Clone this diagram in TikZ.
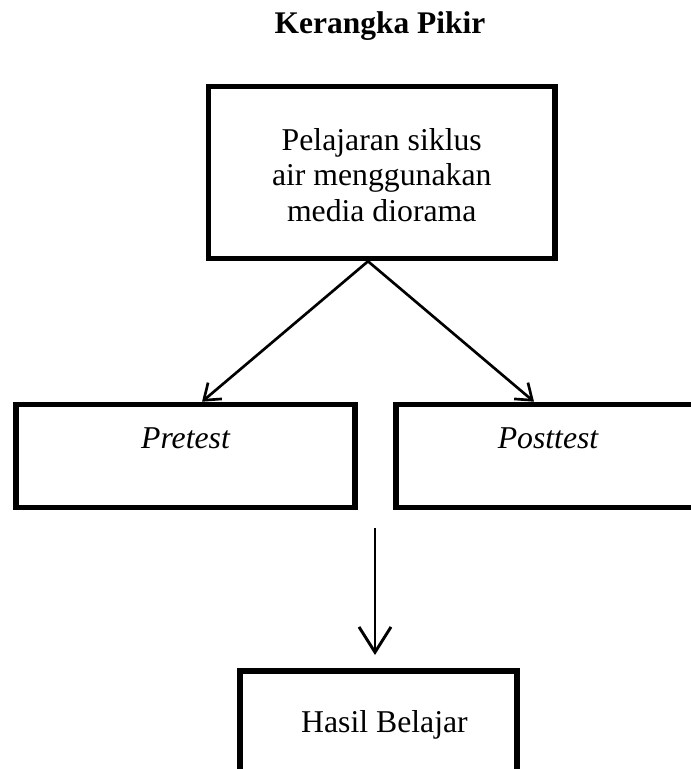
\documentclass[tikz,border=0pt]{standalone}
\usepackage{fontspec}
\setmainfont{Liberation Serif}
\usetikzlibrary{arrows.meta}
\begin{document}
\begin{tikzpicture}[x=0.75pt,y=-0.75pt,
  box/.style={draw,line width=4.2pt,rectangle,inner sep=0pt},
  txt/.style={inner sep=0pt,font=\fontsize{23.8pt}{26.6pt}\selectfont},
  diag/.style={line width=2pt,-{Straight Barb[length=11pt,width=16pt,line width=2pt]}},
  vert/.style={line width=2.2pt,-{Straight Barb[length=19pt,width=24pt,line width=2.2pt]}}]
\useasboundingbox (0,0) rectangle (691,769);
\clip (0,0) rectangle (691,769);
\node[txt,anchor=base,font=\fontsize{23.6pt}{26.6pt}\selectfont\bfseries] (title) at (380,33) {Kerangka Pikir};
\node[box,minimum width=259.9pt,minimum height=129pt] (top) at (381.75,172.5) {};
\node[txt,align=center] (toptext) at (381.75,175) {Pelajaran siklus\\air menggunakan\\media diorama};
\node[box,minimum width=254.25pt,minimum height=77.25pt] (pre) at (185.5,456) {};
\node[txt,anchor=base] (pretext) at (185.5,448) {\itshape Pretest};
\node[box,minimum width=228pt,minimum height=77.25pt] (post) at (548,456) {};
\node[txt,anchor=base] (posttext) at (548,448) {\itshape Posttest};
\node[box,minimum width=207.75pt,minimum height=150pt] (hasil) at (378.5,771) {};
\node[txt,anchor=base] (hasiltext) at (384.5,732) {Hasil Belajar};
\draw[diag] ([xshift=-10.3pt]top.south) -- ([xshift=12.4pt]pre.north);
\draw[diag] ([xshift=-10.3pt]top.south) -- ([xshift=-10.5pt]post.north);
\coordinate (vs) at (375,528);
\coordinate (ve) at (375,655);
\draw[vert] (vs) -- (ve);
\end{tikzpicture}
\end{document}
